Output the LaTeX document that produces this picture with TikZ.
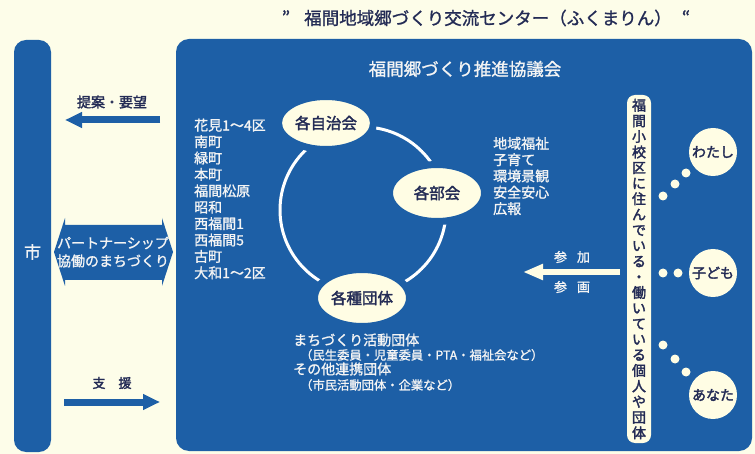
\documentclass[tikz,border=0pt]{standalone}
\usepackage{fontspec}
\setmainfont{Noto Sans CJK JP}[RawFeature={embolden=1.2}]
\newfontfamily\heavy{Noto Sans CJK JP}[RawFeature={embolden=2.2}]
\usetikzlibrary{shapes.geometric,arrows.meta}
\definecolor{bg}{HTML}{FDFDE9}
\definecolor{mblue}{HTML}{1D5FA6}
\definecolor{cream}{HTML}{FFFDE4}
\definecolor{navy}{HTML}{232B55}
\definecolor{wtxt}{HTML}{F4F4F4}
\newcommand{\fs}[2]{\fontsize{#1}{#2}\selectfont}
\begin{document}
\begin{tikzpicture}[x=1pt,y=-1pt,
  txt/.style={inner sep=0pt},
  ell/.style={ellipse, fill=cream, draw=mblue, line width=7pt, minimum width=95pt, minimum height=57pt, inner sep=0pt, text=navy, font=\heavy\fs{15.5}{18}},
  person/.style={circle, fill=cream, minimum size=48pt, inner sep=0pt, text=navy, font=\heavy\fs{14}{16}},
  dot/.style={circle, fill=cream, minimum size=9pt, inner sep=0pt},
  bluearrow/.style={mblue, line width=7pt, -{Triangle[length=17pt,width=15pt]}},
  whitearrow/.style={cream, line width=6pt, -{Triangle[length=20pt,width=15pt]}},
]
\fill[bg] (0,0) rectangle (755,454);
\useasboundingbox (0,0) rectangle (755,454);

% title
\node[txt, text=navy, font=\fs{17.5}{20}] (q1) at (286,17) {”};
\node[txt, text=navy, font=\fs{17.5}{20}] (title) at (488,18) {福間地域郷づくり交流センター（ふくまりん）};
\node[txt, text=navy, font=\fs{17.5}{20}] (q2) at (686,17) {“};

% left bar (city)
\fill[mblue, rounded corners=12pt] (14,40) rectangle (51,452);
\node[txt, text=wtxt, font=\fs{17}{20}] (city) at (32.5,252) {市};

% big box
\fill[mblue, rounded corners=13pt] (176,39) rectangle (752,451);
\node[txt, text=wtxt, font=\fs{17.5}{20}] (council) at (465,69) {福間郷づくり推進協議会};

% arrows between city and council
\node[txt, text=navy, font=\heavy\fs{14}{16}] (teian) at (112,102) {提案・要望};
\coordinate (a1s) at (160,120);
\coordinate (a1e) at (65,120);
\draw[bluearrow] (a1s) -- (a1e);

\fill[mblue] (54,252) -- (65,218) -- (65,225) -- (162,225) -- (162,218) -- (173,252)
  -- (162,286) -- (162,280) -- (65,280) -- (65,286) -- cycle;
\node[txt, text=wtxt, align=center, font=\fs{14}{18}] (partner) at (113,252) {パートナーシップ\\協働のまちづくり};

\node[txt, text=navy, font=\heavy\fs{13}{16}] (shien) at (112,383) {支　援};
\coordinate (a2s) at (64,402);
\coordinate (a2e) at (160,402);
\draw[bluearrow] (a2s) -- (a2e);

% circle of organisations
\draw[white, line width=3pt] (363,210) circle[radius=83pt];
\node[ell, minimum height=53pt] (jichi) at (326,123) {各自治会};
\node[ell] (bukai) at (437,193) {各部会};
\node[ell] (dantai) at (362,298) {各種団体};

% lists
\node[txt, anchor=west, align=left, text=wtxt, font=\fs{14}{16.4}] (areas) at (194,199)
  {花見1～4区\\南町\\緑町\\本町\\福間松原\\昭和\\西福間1\\西福間5\\古町\\大和1～2区};
\node[txt, anchor=west, align=left, text=wtxt, font=\fs{14}{16.3}] (groups) at (493,176)
  {地域福祉\\子育て\\環境景観\\安全安心\\広報};

\node[txt, anchor=west, text=wtxt, font=\fs{14}{16}] (b1) at (293,340) {まちづくり活動団体};
\node[txt, anchor=west, text=wtxt, font=\fs{12.3}{14}] (b2) at (300,355) {（民生委員・児童委員・PTA・福祉会など）};
\node[txt, anchor=west, text=wtxt, font=\fs{14}{16}] (b3) at (293,369) {その他連携団体};
\node[txt, anchor=west, text=wtxt, font=\fs{12.3}{14}] (b4) at (300,385) {（市民活動団体・企業など）};

% participation arrow
\node[txt, text=wtxt, font=\fs{13}{15}] (sanka) at (572,257) {参\hspace{10pt}加};
\node[txt, text=wtxt, font=\fs{13}{15}] (sankaku) at (572,287) {参\hspace{10pt}画};
\coordinate (a3s) at (620,272);
\coordinate (a3e) at (523,272);
\draw[whitearrow] (a3s) -- (a3e);

% vertical box
\node[rectangle, rounded corners=8pt, fill=cream, minimum width=24pt, minimum height=348pt,
  inner sep=0pt, align=center, text=navy, font=\heavy\fs{14}{15.6}] (people) at (639,269)
  {福\\間\\小\\校\\区\\に\\住\\ん\\で\\い\\る\\・\\働\\い\\て\\い\\る\\個\\人\\や\\団\\体};

% persons
\node[person] (watashi) at (713,152) {わたし};
\node[person] (kodomo) at (713,273) {子ども};
\node[person] (anata) at (713,395) {あなた};

\node[dot] (d1) at (686,173) {};
\node[dot] (d2) at (675,184) {};
\node[dot] (d3) at (663,196) {};
\node[dot] (d4) at (678,273) {};
\node[dot] (d5) at (663,273) {};
\node[dot] (d6) at (663,345) {};
\node[dot] (d7) at (675,359) {};
\node[dot] (d8) at (686,372) {};
\end{tikzpicture}
\end{document}
